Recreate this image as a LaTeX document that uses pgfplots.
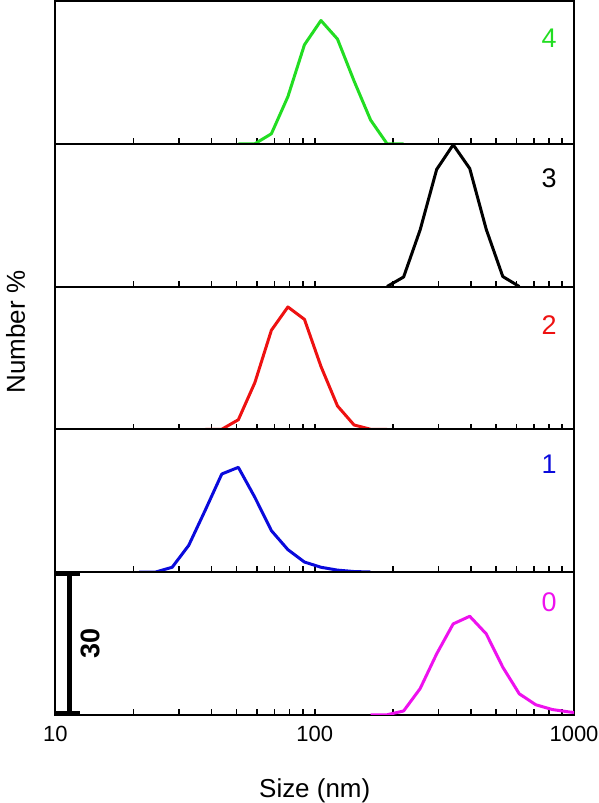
\documentclass[border=0pt]{standalone}
\usepackage{pgfplots}
\pgfplotsset{compat=1.18}
\usepgfplotslibrary{groupplots}
\usepackage{fontspec}
\setmainfont{Liberation Sans}
\definecolor{cgreen}{RGB}{34,221,34}
\definecolor{cred}{RGB}{238,17,17}
\definecolor{cblue}{RGB}{10,10,220}
\definecolor{cmag}{RGB}{238,17,238}
\begin{document}
\begin{tikzpicture}
\begin{groupplot}[
  group style={group size=1 by 5, vertical sep=0pt, xticklabels at=edge bottom},
  width=259.75pt, height=71.5pt, scale only axis,
  xmode=log, xmin=10, xmax=1000, ymin=0, ymax=30,
  ytick=\empty,
  xtick={10,100,1000}, xticklabels={10,100,1000},
  minor xtick={20,30,40,50,60,70,80,90,200,300,400,500,600,700,800,900},
  xtick pos=left, tick align=inside,
  major tick length=2.8pt, minor tick length=2.8pt,
  tick style={black, line width=0.8pt},
  axis line style={line width=1pt},
  xticklabel style={font=\fontsize{11}{12}\selectfont, anchor=base, inner sep=0pt, yshift=-13.5pt},
  xlabel style={font=\fontsize{13}{15}\selectfont, at={(axis description cs:0.5,0)}, anchor=base, inner sep=0pt, yshift=-41.5pt},
  every axis plot/.append style={line width=1.5pt, no markers, line join=round},
]
\nextgroupplot
\addplot[cgreen] coordinates {(50.75,0) (58.77,0) (68.06,2.1) (78.82,9.9) (91.28,20.8) (105.7,25.9) (122.4,22.0) (141.8,13.2) (164.2,5.0) (190.1,0) (220.2,0)};
\node[text=cgreen, font=\fontsize{13.5}{15}\selectfont] at (rel axis cs:0.952,0.74) {4};
\nextgroupplot
\addplot[black] coordinates {(190.1,0) (220.2,2.0) (255.0,11.9) (295.3,24.6) (342.0,29.8) (396.1,24.8) (458.7,12.0) (531.2,2.1) (615.1,0)};
\node[text=black, font=\fontsize{13.5}{15}\selectfont] at (rel axis cs:0.952,0.76) {3};
\nextgroupplot
\addplot[cred] coordinates {(37.84,0) (43.82,0) (50.75,2.0) (58.77,9.8) (68.06,20.8) (78.82,25.7) (91.28,23.1) (105.7,13.2) (122.4,4.9) (141.8,0.9) (164.2,0) (190.1,0)};
\node[text=cred, font=\fontsize{13.5}{15}\selectfont] at (rel axis cs:0.952,0.73) {2};
\nextgroupplot
\addplot[cblue] coordinates {(21.04,0) (24.36,0) (28.21,1.0) (32.67,5.6) (37.84,13.0) (43.82,20.6) (50.75,22.0) (58.77,15.7) (68.06,8.7) (78.82,4.7) (91.28,2.1) (105.7,1.0) (122.4,0.4) (141.8,0.1) (164.2,0)};
\node[text=cblue, font=\fontsize{13.5}{15}\selectfont] at (rel axis cs:0.952,0.755) {1};
\nextgroupplot[xlabel={Size (nm)}]
\addplot[cmag] coordinates {(164.2,0) (190.1,0) (220.2,0.8) (255.0,5.5) (295.3,12.8) (342.0,19.1) (396.1,20.7) (458.7,17.0) (531.2,10.0) (615.1,4.4) (712.4,2.1) (825.0,1.1) (955.4,0.6) (1106,0.2)};
\node[text=cmag, font=\fontsize{13.5}{15}\selectfont] at (rel axis cs:0.952,0.79) {0};
\draw[line width=2.5pt] (axis cs:11.3,0) -- (axis cs:11.3,30);
\draw[line width=2pt] (axis cs:10,0.42) -- (axis cs:12.4,0.42);
\draw[line width=2pt] (axis cs:10,29.58) -- (axis cs:12.4,29.58);
\node[rotate=90, font=\bfseries\fontsize{13.5}{16}\selectfont] at (axis cs:13.6,15) {30};
\end{groupplot}
\path (group c1r3.west) ++(-19.9pt,13pt) node[rotate=90, inner sep=0pt, font=\fontsize{13}{15}\selectfont] {Number \%};
\path (group c1r5.south west) ++(-27.75pt,0) (group c1r5.south east) ++(12.5pt,0);
\end{tikzpicture}
\end{document}
